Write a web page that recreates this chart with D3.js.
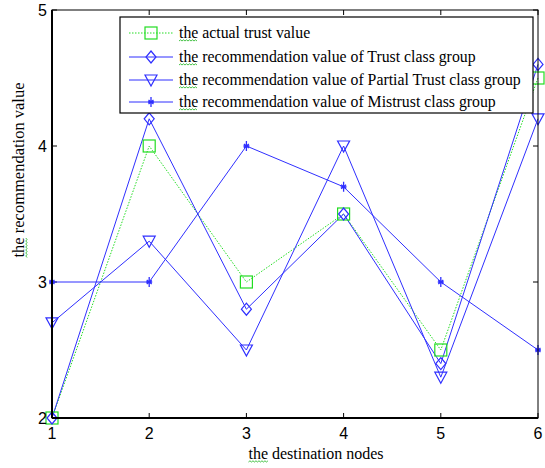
<!DOCTYPE html>
<html><head><meta charset="utf-8">
<script src="https://cdn.jsdelivr.net/npm/d3@7/dist/d3.min.js"></script>
<style>body{margin:0;background:#fff}svg{display:block}</style>
</head><body>
<script>
const nodes = [1, 2, 3, 4, 5, 6];
const actualTrust = [2, 4.0, 3.0, 3.5, 2.5, 4.5];
const trustGroup = [2, 4.2, 2.8, 3.5, 2.4, 4.6];
const partialGroup = [2.7, 3.3, 2.5, 4.0, 2.3, 4.2];
const mistrustGroup = [3, 3, 4, 3.7, 3, 2.5];
const xTicks = [1, 2, 3, 4, 5, 6];
const yTicks = [2, 3, 4, 5];
const legendLabels = [
  "the actual trust value",
  "the recommendation value of Trust class group",
  "the recommendation value of Partial Trust class group",
  "the recommendation value of Mistrust class group"
];

const W = 545, H = 468;
const L = 52, R = 538, T = 10, B = 418;
const svg = d3.select("body").append("svg").attr("width", W).attr("height", H);
const x = d3.scaleLinear().domain([1, 6]).range([L, R]);
const y = d3.scaleLinear().domain([2, 5]).range([B, T]);

const blue = "#2f2fff", green = "#22dd22";
const series = [
  {vals: actualTrust, color: green, dash: "1.5,1.5", marker: "square"},
  {vals: trustGroup, color: blue, dash: null, marker: "diamond"},
  {vals: partialGroup, color: blue, dash: null, marker: "tri"},
  {vals: mistrustGroup, color: blue, dash: null, marker: "star"}
];

function drawMarker(g, type, cx, cy, color) {
  if (type === "square") {
    g.append("rect").attr("x", cx - 6).attr("y", cy - 6).attr("width", 12).attr("height", 12)
      .attr("fill", "none").attr("stroke", color).attr("stroke-width", 1.2);
  } else if (type === "diamond") {
    g.append("path").attr("d", `M${cx},${cy-6}L${cx+5},${cy}L${cx},${cy+6}L${cx-5},${cy}Z`)
      .attr("fill", "none").attr("stroke", color).attr("stroke-width", 1.2);
  } else if (type === "tri") {
    g.append("path").attr("d", `M${cx-6},${cy-5}L${cx+6},${cy-5}L${cx},${cy+6}Z`)
      .attr("fill", "none").attr("stroke", color).attr("stroke-width", 1.2);
  } else {
    g.append("path").attr("d", `M${cx},${cy-5}L${cx},${cy+5}M${cx-2.5},${cy-2}L${cx+2.5},${cy+2}M${cx-2.5},${cy+2}L${cx+2.5},${cy-2}M${cx-3},${cy}L${cx+3},${cy}`)
      .attr("fill", "none").attr("stroke", color).attr("stroke-width", 1.3);
  }
}

// ticks (inside)
const axG = svg.append("g").attr("stroke", "#000").attr("stroke-width", 1);
xTicks.forEach(t => {
  axG.append("line").attr("x1", x(t)).attr("x2", x(t)).attr("y1", B).attr("y2", B - 5);
  axG.append("line").attr("x1", x(t)).attr("x2", x(t)).attr("y1", T).attr("y2", T + 5);
});
yTicks.forEach(t => {
  axG.append("line").attr("x1", L).attr("x2", L + 5).attr("y1", y(t)).attr("y2", y(t));
  axG.append("line").attr("x1", R).attr("x2", R - 5).attr("y1", y(t)).attr("y2", y(t));
});

// lines
const line = d3.line().x((d, i) => x(nodes[i])).y(d => y(d));
series.forEach(s => {
  svg.append("path").datum(s.vals).attr("d", line).attr("fill", "none")
    .attr("stroke", s.color).attr("stroke-width", 1).attr("stroke-dasharray", s.dash);
});
series.forEach(s => {
  const g = svg.append("g");
  s.vals.forEach((v, i) => drawMarker(g, s.marker, x(nodes[i]), y(v), s.color));
});

// box
svg.append("rect").attr("x", L).attr("y", T).attr("width", R - L).attr("height", B - T)
  .attr("fill", "none").attr("stroke", "#000").attr("stroke-width", 1);
svg.append("line").attr("x1", L).attr("x2", L).attr("y1", T).attr("y2", B).attr("stroke", "#000").attr("stroke-width", 2);
svg.append("line").attr("x1", L).attr("x2", R).attr("y1", B).attr("y2", B).attr("stroke", "#000").attr("stroke-width", 2);

// tick labels
const tf = "Liberation Sans, Arial, sans-serif";
xTicks.forEach(t => {
  svg.append("text").attr("x", x(t)).attr("y", B + 21).attr("text-anchor", "middle")
    .attr("font-family", tf).attr("font-size", 16).text(t);
});
yTicks.forEach(t => {
  svg.append("text").attr("x", L - 5).attr("y", y(t) + 6).attr("text-anchor", "end")
    .attr("font-family", tf).attr("font-size", 16).text(t);
});

const sf = "Liberation Serif, Times New Roman, serif";
function squiggle(g, x0, x1, yy) {
  let d = `M${x0},${yy}`;
  let up = true;
  for (let xx = x0 + 1.5; xx <= x1; xx += 1.5) { d += `L${xx},${yy + (up ? -1.2 : 0)}`; up = !up; }
  g.append("path").attr("d", d).attr("fill", "none").attr("stroke", "#33bb33").attr("stroke-width", 0.9);
}
function label(parent, xPos, yPos, str, size, anchor, transform) {
  const g = parent.append("g");
  if (transform) g.attr("transform", transform);
  const t = g.append("text").attr("x", xPos).attr("y", yPos).attr("text-anchor", anchor)
    .attr("font-family", sf).attr("font-size", size).text(str);
  const node = t.node();
  const s = node.getStartPositionOfChar(0).x;
  const e = node.getEndPositionOfChar(2).x;
  squiggle(g, s, e, yPos + 3);
  return g;
}
label(svg, 316, 459, "the destination nodes", 16, "middle");
label(svg, 0, 0, "the recommendation value", 16.5, "middle", `translate(24,170) rotate(-90)`);

// legend
const lg = svg.append("g");
lg.append("rect").attr("x", 120).attr("y", 17).attr("width", 413).attr("height", 96)
  .attr("fill", "#fff").attr("stroke", "#000").attr("stroke-width", 1.2);
const rowY = [33, 57, 80, 102];
series.forEach((s, i) => {
  lg.append("line").attr("x1", 129).attr("x2", 173).attr("y1", rowY[i]).attr("y2", rowY[i])
    .attr("stroke", s.color).attr("stroke-width", 1).attr("stroke-dasharray", s.dash);
  drawMarker(lg, s.marker, 151, rowY[i], s.color);
  label(lg, 179, rowY[i] + 5, legendLabels[i], 15.8, "start");
});
</script>
</body></html>
